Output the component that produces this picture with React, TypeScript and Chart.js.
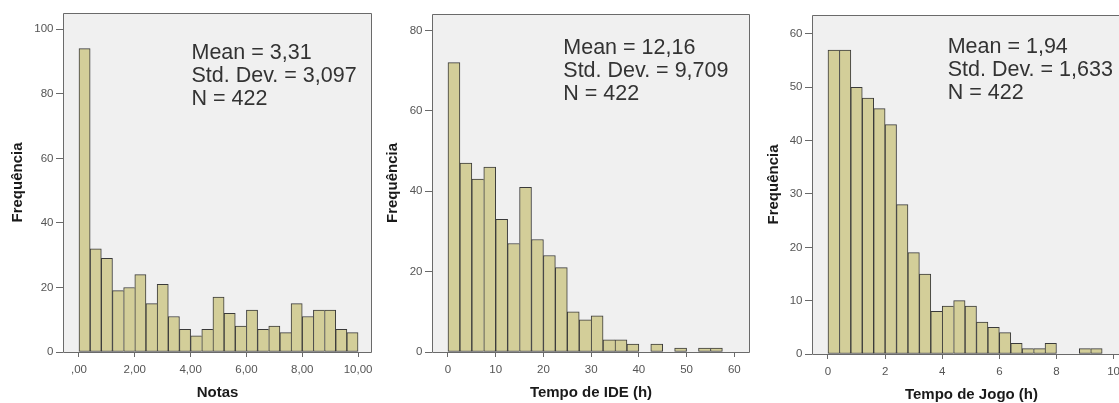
import React, { useEffect, useRef } from 'react';
import { Chart, registerables } from 'chart.js';

Chart.register(...registerables);

// ---------- data ----------
const notasCounts = [94, 32, 29, 19, 20, 24, 15, 21, 11, 7, 5, 7, 17, 12, 8, 13, 7, 8, 6, 15, 11, 13, 13, 7, 6];
const ideCounts = [72, 47, 43, 46, 33, 27, 41, 28, 24, 21, 10, 8, 9, 3, 3, 2, 0, 2, 0, 1, 0, 1, 1];
const jogoCounts = [57, 57, 50, 48, 46, 43, 28, 19, 15, 8, 9, 10, 9, 6, 5, 4, 2, 1, 1, 2, 0, 0, 1, 1];

const notasBinWidth = 0.4;
const ideBinWidth = 2.5;
const jogoBinWidth = 0.4;

const notasXTicks = [0, 2, 4, 6, 8, 10];
const notasXLabels = [',00', '2,00', '4,00', '6,00', '8,00', '10,00'];
const ideXTicks = [0, 10, 20, 30, 40, 50, 60];
const ideXLabels = ['0', '10', '20', '30', '40', '50', '60'];
const jogoXTicks = [0, 2, 4, 6, 8, 10];
const jogoXLabels = ['0', '2', '4', '6', '8', '10'];

const notasYTicks = [0, 20, 40, 60, 80, 100];
const ideYTicks = [0, 20, 40, 60, 80];
const jogoYTicks = [0, 10, 20, 30, 40, 50, 60];

const notasStats = ['Mean = 3,31', 'Std. Dev. = 3,097', 'N = 422'];
const ideStats = ['Mean = 12,16', 'Std. Dev. = 9,709', 'N = 422'];
const jogoStats = ['Mean = 1,94', 'Std. Dev. = 1,633', 'N = 422'];

const yTitle = 'Frequência';
const notasXTitle = 'Notas';
const ideXTitle = 'Tempo de IDE (h)';
const jogoXTitle = 'Tempo de Jogo (h)';

// ---------- layout / style ----------
const FONT = '"Liberation Sans", Arial, Helvetica, sans-serif';
const BAR_FILL = '#D3CE99';
const BAR_EDGE = '#3a3a3a';
const PLOT_BG = '#F0F0F0';
const FRAME = '#6a6a6a';
const TICK_TXT = '#555555';

type PanelCfg = {
  counts: number[];
  binWidth: number;
  xTicks: number[];
  xLabels: string[];
  yTicks: number[];
  stats: string[];
  xTitle: string;
  xMin: number;
  xMax: number;
  yMax: number;
  canvasLeft: number;
  canvasWidth: number;
  frame: { left: number; top: number; right: number; bottom: number };
  yTitleOffset: number;
  xTitleOffset: number;
  statsX: number;
  statsY: number;
};

const PANELS: PanelCfg[] = [
  {
    counts: notasCounts, binWidth: notasBinWidth, xTicks: notasXTicks, xLabels: notasXLabels,
    yTicks: notasYTicks, stats: notasStats, xTitle: notasXTitle,
    xMin: -0.573, xMax: 10.5, yMax: 105.05,
    canvasLeft: 0, canvasWidth: 376,
    frame: { left: 63, top: 13, right: 372, bottom: 352 },
    yTitleOffset: 17.7, xTitleOffset: 10.5, statsX: 191.5, statsY: 59,
  },
  {
    counts: ideCounts, binWidth: ideBinWidth, xTicks: ideXTicks, xLabels: ideXLabels,
    yTicks: ideYTicks, stats: ideStats, xTitle: ideXTitle,
    xMin: -3.35, xMax: 63.29, yMax: 84.1,
    canvasLeft: 376, canvasWidth: 380,
    frame: { left: 432, top: 14, right: 750, bottom: 352 },
    yTitleOffset: 17, xTitleOffset: 10.5, statsX: 563.3, statsY: 54.3,
  },
  {
    counts: jogoCounts, binWidth: jogoBinWidth, xTicks: jogoXTicks, xLabels: jogoXLabels,
    yTicks: jogoYTicks, stats: jogoStats, xTitle: jogoXTitle,
    xMin: -0.56, xMax: 10.61, yMax: 63.56,
    canvasLeft: 756, canvasWidth: 380,
    frame: { left: 812, top: 15, right: 1131, bottom: 354 },
    yTitleOffset: 17.8, xTitleOffset: 8, statsX: 947.7, statsY: 52.7,
  },
];

const H = 403;

function Panel({ cfg }: { cfg: PanelCfg }) {
  const ref = useRef<HTMLCanvasElement | null>(null);

  useEffect(() => {
    const canvas = ref.current;
    if (!canvas) return;
    const f = cfg.frame;
    const padLeft = 0;
    const yAxisWidth = f.left - cfg.canvasLeft;
    const xAxisHeight = H - f.bottom;
    const padRight = cfg.canvasLeft + cfg.canvasWidth - f.right;

    const points = cfg.counts.map((c, i) => ({ x: (i + 0.5) * cfg.binWidth, y: c }));
    const counts = cfg.counts;

    const framePlugin = {
      id: 'spssFrame',
      beforeDraw(chart: any) {
        const { ctx, chartArea: a } = chart;
        ctx.save();
        ctx.fillStyle = PLOT_BG;
        ctx.fillRect(a.left, a.top, a.right - a.left, a.bottom - a.top);
        ctx.restore();
      },
      afterDraw(chart: any) {
        const { ctx, chartArea: a } = chart;
        ctx.save();
        ctx.strokeStyle = FRAME;
        ctx.lineWidth = 1;
        ctx.beginPath();
        ctx.moveTo(a.left + 0.5, a.bottom + 0.5);
        ctx.lineTo(a.left + 0.5, a.top + 0.5);
        ctx.lineTo(a.right - 0.5, a.top + 0.5);
        ctx.lineTo(a.right - 0.5, a.bottom + 0.5);
        ctx.lineTo(a.left + 0.5, a.bottom + 0.5);
        ctx.stroke();
        // stats text
        ctx.fillStyle = '#333333';
        ctx.font = `21.5px ${FONT}`;
        ctx.textAlign = 'left';
        ctx.textBaseline = 'alphabetic';
        cfg.stats.forEach((s, i) => {
          ctx.fillText(s, cfg.statsX - cfg.canvasLeft, cfg.statsY + i * 23);
        });
        ctx.restore();
      },
    };

    const chart = new Chart(canvas, {
      type: 'bar',
      data: {
        datasets: [
          {
            data: points as any,
            backgroundColor: BAR_FILL,
            borderColor: BAR_EDGE,
            borderWidth: (c: any) => {
              const i = c.dataIndex;
              const cur = counts[i];
              const next = i + 1 < counts.length ? counts[i + 1] : -1;
              return { top: 1, left: 1, bottom: 1, right: next >= cur ? 0 : 1 };
            },
            borderSkipped: false,
            barPercentage: 1,
            categoryPercentage: 1,
            grouped: false,
          } as any,
        ],
      },
      options: {
        responsive: false,
        animation: false,
        devicePixelRatio: 1,
        layout: { padding: { left: padLeft, top: f.top, right: padRight, bottom: 0 } },
        plugins: {
          legend: { display: false },
          tooltip: { enabled: false },
        },
        events: [],
        scales: {
          x: {
            type: 'linear',
            min: cfg.xMin,
            max: cfg.xMax,
            offset: false,
            afterBuildTicks: (s: any) => {
              s.ticks = cfg.xTicks.map((v) => ({ value: v }));
            },
            afterFit: (s: any) => {
              s.height = xAxisHeight;
              s.paddingLeft = 0;
              s.paddingRight = 0;
            },
            ticks: {
              autoSkip: false,
              maxRotation: 0,
              minRotation: 0,
              padding: 5.5,
              color: TICK_TXT,
              font: { family: FONT, size: 11.5 },
              callback: (_v: any, i: number) => cfg.xLabels[i],
            },
            grid: {
              display: true,
              offset: false,
              drawOnChartArea: false,
              drawTicks: true,
              tickLength: 5,
              color: FRAME,
            },
            border: { display: false },
            title: {
              display: true,
              text: cfg.xTitle,
              color: '#1a1a1a',
              font: { family: FONT, size: 15, weight: 'bold', lineHeight: 1 },
              padding: { top: 0, bottom: cfg.xTitleOffset - 7.5 },
            },
          },
          y: {
            type: 'linear',
            min: 0,
            max: cfg.yMax,
            afterBuildTicks: (s: any) => {
              s.ticks = cfg.yTicks.map((v) => ({ value: v }));
            },
            afterFit: (s: any) => {
              s.width = yAxisWidth;
              s.paddingTop = 0;
              s.paddingBottom = 0;
            },
            ticks: {
              autoSkip: false,
              padding: 2.5,
              color: TICK_TXT,
              font: { family: FONT, size: 11.5 },
              callback: (v: any) => String(v),
            },
            grid: {
              display: true,
              drawOnChartArea: false,
              drawTicks: true,
              tickLength: 7,
              color: FRAME,
            },
            border: { display: false },
            title: {
              display: true,
              text: yTitle,
              color: '#1a1a1a',
              font: { family: FONT, size: 15, weight: 'bold', lineHeight: 1 },
              padding: { top: cfg.yTitleOffset - 7.5, bottom: 0 },
            },
          },
        },
      } as any,
      plugins: [framePlugin],
    });

    return () => {
      chart.destroy();
    };
  }, [cfg]);

  return (
    <canvas
      ref={ref}
      width={cfg.canvasWidth}
      height={H}
      style={{
        position: 'absolute',
        left: cfg.canvasLeft,
        top: 0,
        width: cfg.canvasWidth,
        height: H,
        display: 'block',
      }}
    />
  );
}

export default function App() {
  return (
    <div
      style={{
        position: 'fixed',
        left: 0,
        top: 0,
        width: 1119,
        height: H,
        overflow: 'hidden',
        background: '#ffffff',
      }}
    >
      {PANELS.map((p, i) => (
        <Panel key={i} cfg={p} />
      ))}
    </div>
  );
}
